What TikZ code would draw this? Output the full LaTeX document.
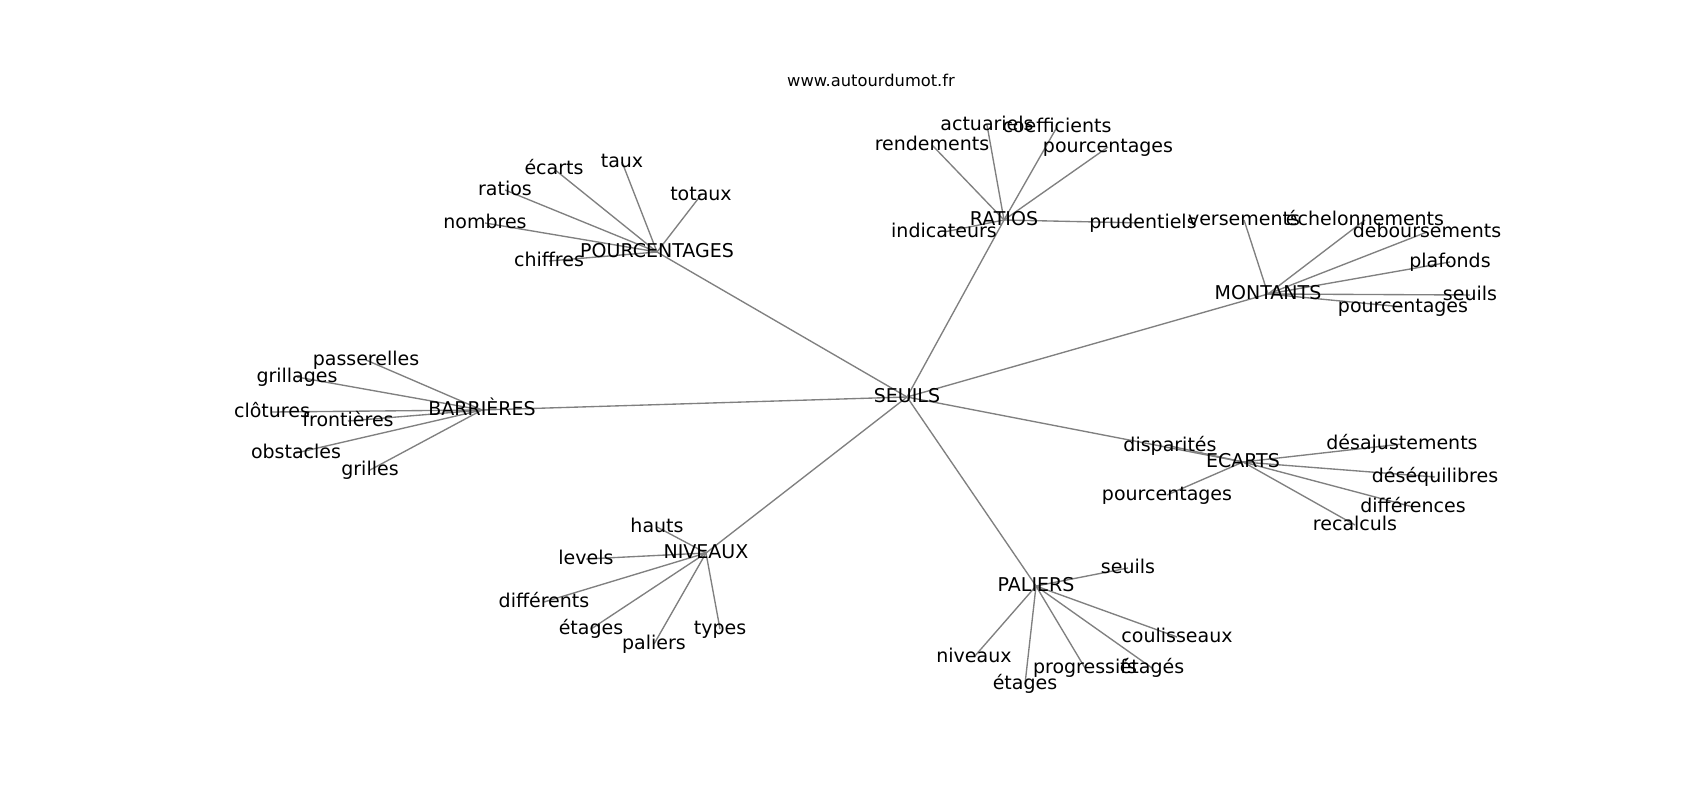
\documentclass[tikz,border=0pt]{standalone}
\usepackage{fontspec}
\setmainfont{DejaVu Sans}
\usetikzlibrary{backgrounds}
\tikzset{
  lbl/.style={inner sep=0pt, outer sep=0pt, text height=12pt, text depth=2pt, font=\fontsize{19}{23}\selectfont, text=black},
  ttl/.style={inner sep=0pt, anchor=base, font=\fontsize{16.3}{20}\selectfont, text=black},
  edge/.style={draw=black!50, line width=1.35pt}
}
\begin{document}
\begin{tikzpicture}[x=1pt,y=-1pt]
\useasboundingbox (0,0) rectangle (1700,800);
\node[ttl] (title) at (871,87) {www.autourdumot.fr};
% hubs
\node[lbl] (seuils) at (907,397) {SEUILS};
\node[lbl] (pourc) at (657,252) {POURCENTAGES};
\node[lbl] (ratios) at (1004,220) {RATIOS};
\node[lbl] (montants) at (1268,294) {MONTANTS};
\node[lbl] (barr) at (482,410) {BARRIÈRES};
\node[lbl] (ecarts) at (1243,462) {ECARTS};
\node[lbl] (niveaux) at (706,553) {NIVEAUX};
\node[lbl] (paliers) at (1036,586) {PALIERS};
% POURCENTAGES leaves
\node[lbl] (p1) at (554,169) {écarts};
\node[lbl] (p2) at (622,162) {taux};
\node[lbl] (p3) at (701,195) {totaux};
\node[lbl] (p4) at (505,190) {ratios};
\node[lbl] (p5) at (485,223) {nombres};
\node[lbl] (p6) at (549,261) {chiffres};
% RATIOS leaves
\node[lbl] (r1) at (987,125) {actuariels};
\node[lbl] (r2) at (1057,127) {coefficients};
\node[lbl] (r3) at (932,145) {rendements};
\node[lbl] (r4) at (1108,147) {pourcentages};
\node[lbl] (r5) at (944,232) {indicateurs};
\node[lbl] (r6) at (1143,223) {prudentiels};
% MONTANTS leaves
\node[lbl] (m1) at (1244,220) {versements};
\node[lbl] (m2) at (1365,220) {échelonnements};
\node[lbl] (m3) at (1427,232) {deboursements};
\node[lbl] (m4) at (1450,262) {plafonds};
\node[lbl] (m5) at (1470,295) {seuils};
\node[lbl] (m6) at (1403,307) {pourcentages};
% BARRIERES leaves
\node[lbl] (b1) at (366,360) {passerelles};
\node[lbl] (b2) at (297,377) {grillages};
\node[lbl] (b3) at (272,412) {clôtures};
\node[lbl] (b4) at (348,421) {frontières};
\node[lbl] (b5) at (296,453) {obstacles};
\node[lbl] (b6) at (370,470) {grilles};
% ECARTS leaves
\node[lbl] (e1) at (1170,446) {disparités};
\node[lbl] (e2) at (1402,444) {désajustements};
\node[lbl] (e3) at (1435,477) {déséquilibres};
\node[lbl] (e4) at (1413,507) {différences};
\node[lbl] (e5) at (1355,525) {recalculs};
\node[lbl] (e6) at (1167,495) {pourcentages};
% NIVEAUX leaves
\node[lbl] (n1) at (657,527) {hauts};
\node[lbl] (n2) at (586,559) {levels};
\node[lbl] (n3) at (544,602) {différents};
\node[lbl] (n4) at (591,629) {étages};
\node[lbl] (n5) at (654,644) {paliers};
\node[lbl] (n6) at (720,629) {types};
% PALIERS leaves
\node[lbl] (l1) at (1128,568) {seuils};
\node[lbl] (l2) at (1177,637) {coulisseaux};
\node[lbl] (l3) at (974,657) {niveaux};
\node[lbl] (l4) at (1025,684) {étages};
\node[lbl] (l5) at (1085,668) {progressifs};
\node[lbl] (l6) at (1152,668) {étagés};
\begin{pgfonlayer}{background}
\fill[white] (0,0) rectangle (1700,800);
\foreach \h in {pourc,ratios,montants,barr,ecarts,niveaux,paliers}
  \draw[edge] (seuils.center) -- (\h.center);
\foreach \c in {p1,p2,p3,p4,p5,p6}
  \draw[edge] (pourc.center) -- (\c.center);
\foreach \c in {r1,r2,r3,r4,r5,r6}
  \draw[edge] (ratios.center) -- (\c.center);
\foreach \c in {m1,m2,m3,m4,m5,m6}
  \draw[edge] (montants.center) -- (\c.center);
\foreach \c in {b1,b2,b3,b4,b5,b6}
  \draw[edge] (barr.center) -- (\c.center);
\foreach \c in {e1,e2,e3,e4,e5,e6}
  \draw[edge] (ecarts.center) -- (\c.center);
\foreach \c in {n1,n2,n3,n4,n5,n6}
  \draw[edge] (niveaux.center) -- (\c.center);
\foreach \c in {l1,l2,l3,l4,l5,l6}
  \draw[edge] (paliers.center) -- (\c.center);
\end{pgfonlayer}
\end{tikzpicture}
\end{document}
